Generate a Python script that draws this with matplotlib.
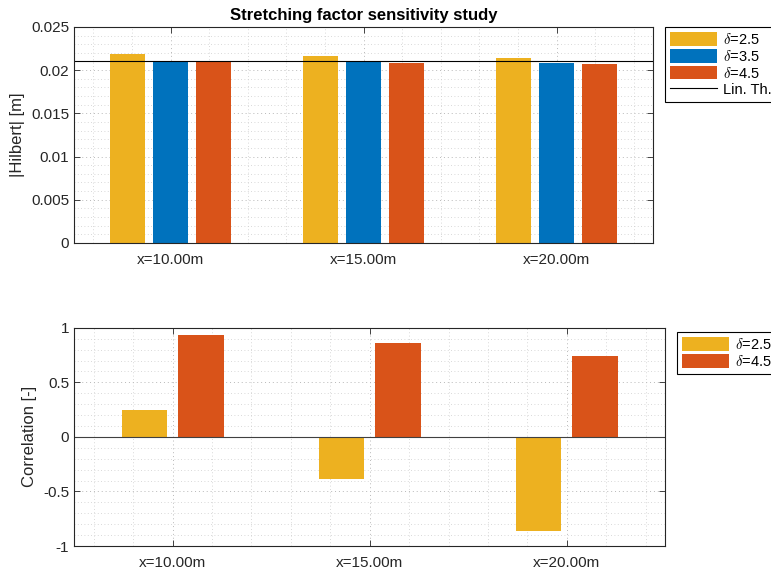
import numpy as np
import matplotlib
matplotlib.use("Agg")
import matplotlib.pyplot as plt
from matplotlib.ticker import MultipleLocator

plt.rcParams["font.family"] = ["Liberation Sans", "DejaVu Sans"]
plt.rcParams["font.size"] = 11
plt.rcParams["mathtext.fontset"] = "cm"

# data
categories = ["x=10.00m", "x=15.00m", "x=20.00m"]
hilbert_d25 = [0.02188, 0.02168, 0.02145]
hilbert_d35 = [0.02103, 0.02095, 0.02080]
hilbert_d45 = [0.02095, 0.02087, 0.02075]
lin_th = 0.0211
corr_d25 = [0.251, -0.39, -0.865]
corr_d45 = [0.936, 0.856, 0.743]

yellow = "#EDB120"
blue = "#0072BD"
red = "#D95319"
dark = "#262626"

x = np.arange(1, len(categories) + 1)

fig = plt.figure(figsize=(7.71, 5.73), dpi=100)


def style_axes(ax):
    ax.set_xlim(0.5, 3.5)
    ax.set_xticks(x)
    ax.set_xticklabels(categories)
    ax.xaxis.set_minor_locator(MultipleLocator(0.2))
    ax.tick_params(which="major", direction="in", top=True, right=True,
                   length=4, width=0.6, colors=dark, labelsize=11)
    ax.tick_params(axis="x", which="major", pad=7)
    ax.tick_params(which="minor", length=0)
    ax.grid(True, which="major", linestyle=(0, (1, 3)), color="#b8b8b8", linewidth=0.7)
    ax.grid(True, which="minor", linestyle=(0, (1, 3)), color="#cccccc", linewidth=0.6)
    ax.set_axisbelow(True)
    for s in ax.spines.values():
        s.set_color(dark)
        s.set_linewidth(0.8)


def add_legend(ax, x0, y0, order):
    h, l = ax.get_legend_handles_labels()
    h = [h[i] for i in order]
    l = [l[i] for i in order]
    leg = ax.legend(h, l, loc="upper left", bbox_to_anchor=(x0 / 771, 1 - y0 / 573),
                    bbox_transform=fig.transFigure, borderaxespad=0, fontsize=10.5,
                    fancybox=False, edgecolor="black", framealpha=1,
                    handlelength=3.2, handleheight=1.05, labelspacing=0.12,
                    handletextpad=0.4, borderpad=0.35)
    leg.get_frame().set_linewidth(0.8)


# top axes
ax1 = fig.add_axes([0.096, 0.576, 0.751, 0.377])
w1 = 0.183
off1 = 0.222
ax1.bar(x - off1, hilbert_d25, w1, color=yellow, label=r"$\delta$=2.5")
ax1.bar(x, hilbert_d35, w1, color=blue, label=r"$\delta$=3.5")
ax1.bar(x + off1, hilbert_d45, w1, color=red, label=r"$\delta$=4.5")
ax1.plot([0.5, 3.5], [lin_th, lin_th], color="black", lw=0.8, label="Lin. Th.")
ax1.set_ylim(0, 0.025)
ax1.set_yticks([0, 0.005, 0.01, 0.015, 0.02, 0.025])
ax1.set_yticklabels(["0", "0.005", "0.01", "0.015", "0.02", "0.025"])
ax1.yaxis.set_minor_locator(MultipleLocator(0.001))
style_axes(ax1)
ax1.set_ylabel("|Hilbert| [m]", color=dark, fontsize=12)
ax1.set_title("Stretching factor sensitivity study", fontweight="bold",
              fontsize=12, pad=5)
add_legend(ax1, 665, 27, [1, 2, 3, 0])

# bottom axes
ax2 = fig.add_axes([0.096, 0.047, 0.767, 0.381])
w2 = 0.231
off2 = 0.143
ax2.bar(x - off2, corr_d25, w2, color=yellow, label=r"$\delta$=2.5")
ax2.bar(x + off2, corr_d45, w2, color=red, label=r"$\delta$=4.5")
ax2.axhline(0, color="#404040", lw=0.8)
ax2.set_ylim(-1, 1)
ax2.set_yticks([-1, -0.5, 0, 0.5, 1])
ax2.set_yticklabels(["-1", "-0.5", "0", "0.5", "1"])
ax2.yaxis.set_minor_locator(MultipleLocator(0.1))
style_axes(ax2)
ax2.set_ylabel("Correlation [-]", color=dark, fontsize=12)
add_legend(ax2, 677, 332, [0, 1])

plt.savefig("out.png", dpi=100)
plt.close()
